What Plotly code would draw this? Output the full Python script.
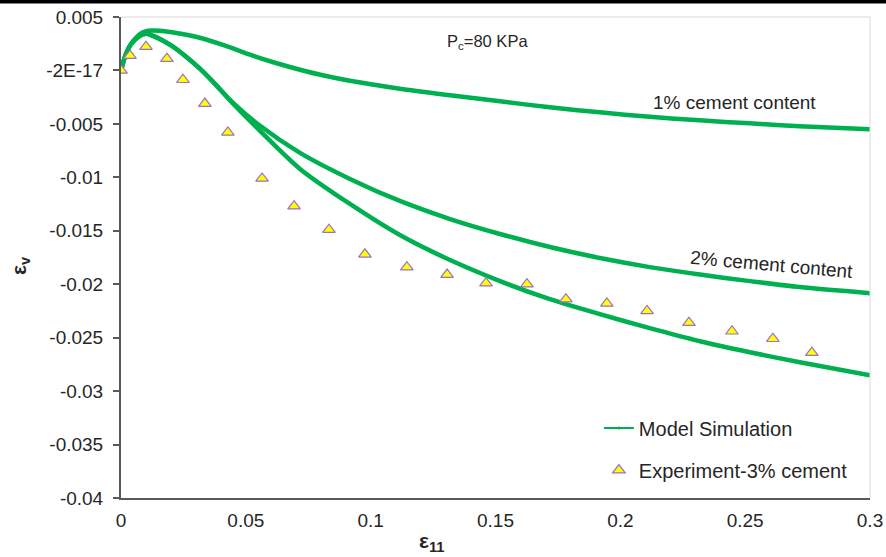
import plotly.graph_objects as go

# Model simulation curves (eps_11, eps_v)
x_1pct = [0, 0.0016, 0.0036, 0.0060, 0.0084, 0.0108, 0.0156, 0.0216, 0.0316, 0.0417, 0.0517,
          0.0617, 0.0717, 0.0817, 0.0917, 0.1117, 0.1318, 0.1518, 0.1718, 0.1918, 0.2118, 0.2319,
          0.2519, 0.2719, 0.3]
y_1pct = [0, 0.00128, 0.00232, 0.00306, 0.00353, 0.00372, 0.00372, 0.00353, 0.00306, 0.00232,
          0.00147, 0.00072, 0.00007, -0.0005, -0.00097, -0.00171, -0.00232, -0.00289, -0.00345,
          -0.00392, -0.00434, -0.00467, -0.00495, -0.00523, -0.00551]

x_2pct = [0, 0.0016, 0.0036, 0.0060, 0.0084, 0.0104, 0.0136, 0.0196, 0.0256, 0.0316, 0.0376,
          0.0449, 0.0557, 0.0717, 0.0917, 0.1117, 0.1318, 0.1518, 0.1718, 0.1918, 0.2118, 0.2319,
          0.2519, 0.2719, 0.3]
y_2pct = [0, 0.00128, 0.00232, 0.00297, 0.00335, 0.00344, 0.00316, 0.00241, 0.00138, 0.00016,
          -0.00125, -0.00303, -0.00518, -0.00771, -0.01015, -0.01221, -0.01390, -0.01530,
          -0.01652, -0.01755, -0.01840, -0.01910, -0.01971, -0.02027, -0.02084]

x_3pct = [0, 0.0016, 0.0036, 0.0060, 0.0084, 0.0104, 0.0136, 0.0196, 0.0256, 0.0316, 0.0376,
          0.0449, 0.0557, 0.0717, 0.0917, 0.1117, 0.1318, 0.1518, 0.1718, 0.1918, 0.2118, 0.2319,
          0.2519, 0.2719, 0.3]
y_3pct = [0, 0.00128, 0.00232, 0.00297, 0.00335, 0.00344, 0.00316, 0.00241, 0.00138, 0.00016,
          -0.00125, -0.00312, -0.00565, -0.00921, -0.01249, -0.01540, -0.01774, -0.01971,
          -0.02140, -0.02280, -0.02411, -0.02533, -0.02636, -0.02730, -0.02851]

# Experimental data, 3% cement
x_exp = [0, 0.0036, 0.010, 0.0184, 0.0248, 0.0336, 0.0428, 0.0565, 0.0693, 0.0833, 0.0977,
         0.1145, 0.1306, 0.1462, 0.1626, 0.1782, 0.1946, 0.2107, 0.2275, 0.2447, 0.2611, 0.2767]
y_exp = [0, 0.00138, 0.00222, 0.0011, -0.00087, -0.0031, -0.0058, -0.0101, -0.0127, -0.0149,
         -0.0172, -0.0184, -0.0191, -0.0199, -0.0200, -0.0214, -0.0218, -0.0225, -0.0236, -0.0244,
         -0.0251, -0.0264]

y_tickvals = [0.005, 0, -0.005, -0.01, -0.015, -0.02, -0.025, -0.03, -0.035, -0.04]
y_ticktext = ["0.005", "-2E-17", "-0.005", "-0.01", "-0.015", "-0.02", "-0.025", "-0.03", "-0.035", "-0.04"]
x_tickvals = [0, 0.05, 0.1, 0.15, 0.2, 0.25, 0.3]
x_ticktext = ["0", "0.05", "0.1", "0.15", "0.2", "0.25", "0.3"]

GREEN = "#00B050"
FONT = "Liberation Sans, Arial, sans-serif"
TXT = "#262626"

fig = go.Figure()
for xs, ys in [(x_1pct, y_1pct), (x_2pct, y_2pct), (x_3pct, y_3pct)]:
    fig.add_trace(go.Scatter(x=xs, y=ys, mode="lines",
                             line=dict(color=GREEN, width=4.5, shape="spline", smoothing=0.8),
                             showlegend=False, hoverinfo="skip"))

# legend entries
fig.add_trace(go.Scatter(x=[None], y=[None], mode="lines+markers", name="Model Simulation",
                         line=dict(color=GREEN, width=2), marker=dict(size=3, color=GREEN),
                         legendgroup="a"))
fig.add_trace(go.Scatter(x=x_exp, y=y_exp, mode="markers", name="Experiment-3% cement",
                         marker=dict(symbol="triangle-up", size=11, color="#FFFF00",
                                     line=dict(color="#9B6FC8", width=1.2)),
                         legendgroup="b"))

fig.update_layout(
    width=886, height=557,
    margin=dict(l=121, r=16, t=17, b=59),
    paper_bgcolor="white", plot_bgcolor="white",
    font=dict(family=FONT, size=19, color=TXT),
    showlegend=True,
    legend=dict(x=0.638, y=0.186, xanchor="left", yanchor="top", bgcolor="rgba(0,0,0,0)",
                font=dict(size=20, color=TXT), traceorder="grouped", tracegroupgap=13),
    xaxis=dict(range=[0, 0.3], tickvals=x_tickvals, ticktext=x_ticktext, showgrid=False,
               zeroline=False, showline=True, linecolor="#595959", linewidth=2, ticks="",
               automargin=False, ticklabelstandoff=4,
               tickfont=dict(size=19, color=TXT)),
    yaxis=dict(range=[-0.04, 0.005], tickvals=y_tickvals, ticktext=y_ticktext, showgrid=False,
               zeroline=False, showline=True, linecolor="#595959", linewidth=2, ticks="outside",
               ticklen=6, tickcolor="#595959", tickwidth=1.5, automargin=False,
               ticklabelstandoff=6,
               tickfont=dict(size=19, color=TXT)),
    shapes=[
        dict(type="line", xref="paper", yref="paper", x0=0, x1=1, y0=1, y1=1,
             line=dict(color="#D9D9D9", width=1)),
        dict(type="line", xref="paper", yref="paper", x0=1, x1=1, y0=0, y1=1,
             line=dict(color="#D9D9D9", width=1)),
        dict(type="rect", xref="paper", yref="paper", x0=-0.17, x1=1.03, y0=1.0283, y1=1.0353,
             line=dict(width=0), fillcolor="black", layer="above"),
    ],
    annotations=[
        dict(x=0.1466, y=0.0027, xref="x", yref="y", text="P<sub>c</sub>=80 KPa", showarrow=False,
             font=dict(size=16.5, color=TXT)),
        dict(x=0.2459, y=-0.0030, xref="x", yref="y", text="1% cement content", showarrow=False,
             font=dict(size=19, color=TXT)),
        dict(x=0.2606, y=-0.0182, xref="x", yref="y", text="2% cement content", showarrow=False,
             textangle=5, font=dict(size=19, color=TXT)),
        dict(x=-0.1349, y=0.4844, xref="paper", yref="paper", text="<b>ε<sub>v</sub></b>",
             xanchor="center", yanchor="middle",
             showarrow=False, textangle=-90, font=dict(size=21, color=TXT)),
        dict(x=0.4152, y=-0.092, xref="paper", yref="paper", text="<b>ε<sub>11</sub></b>",
             xanchor="center", yanchor="middle",
             showarrow=False, font=dict(size=21, color=TXT)),
    ],
)

fig.write_html("out.html", config={"displayModeBar": False},
               post_script="document.body.style.margin='0px';")
